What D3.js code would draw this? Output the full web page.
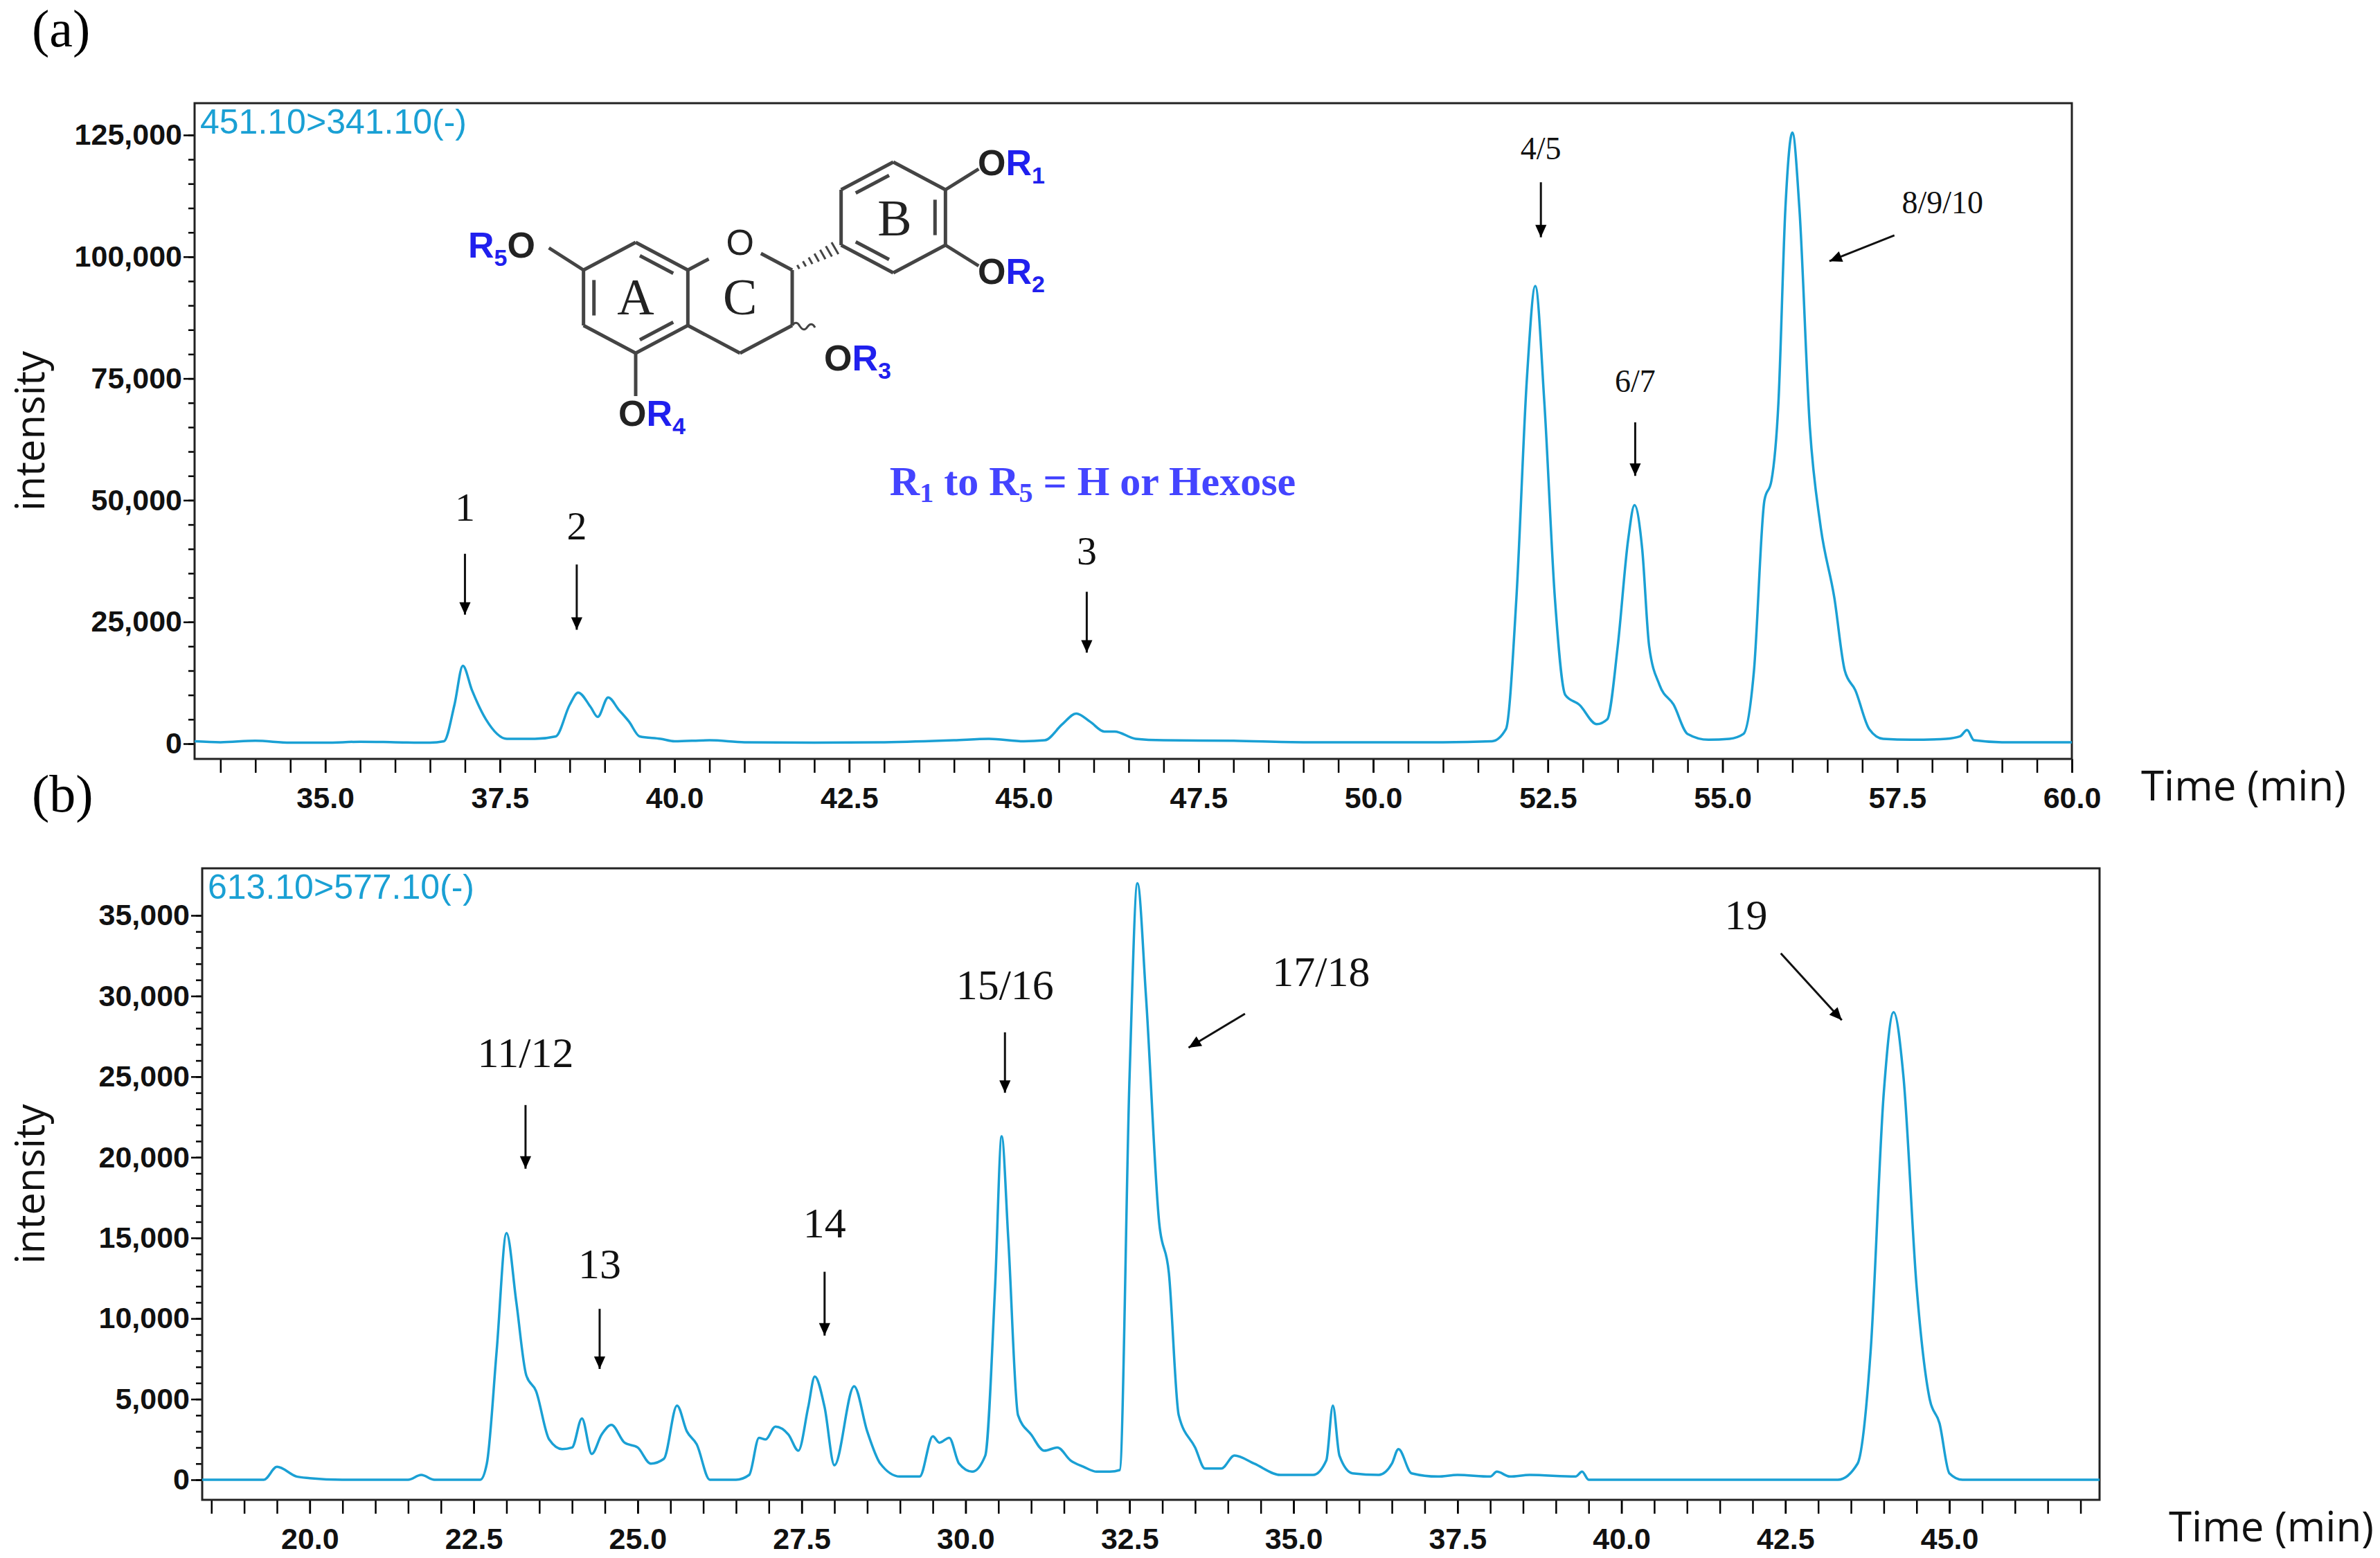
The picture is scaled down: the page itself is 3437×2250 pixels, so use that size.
<!DOCTYPE html>
<html><head><meta charset="utf-8">
<script src="https://cdn.jsdelivr.net/npm/d3@7"></script>
<style>body{margin:0;background:#fff}</style></head>
<body><svg id="c" width="3437" height="2250"></svg>
<script>
// ---- data ----
const timeA = [33.13,33.5,34,34.5,35,35.5,36,36.5,36.7,36.85,36.97,37.1,37.3,37.6,38,38.3,38.5,38.62,38.8,38.9,39.05,39.2,39.35,39.5,39.8,40,40.5,41,42,43,44,44.5,45,45.3,45.55,45.75,45.95,46.15,46.3,46.6,47,48,49,50,51,51.7,51.9,52.05,52.2,52.32,52.45,52.6,52.75,52.95,53.2,53.35,53.5,53.65,53.74,53.85,53.95,54.1,54.3,54.5,54.8,55.1,55.3,55.45,55.6,55.7,55.8,55.9,56.0,56.1,56.25,56.4,56.6,56.75,56.9,57.1,57.3,57.7,58.2,58.4,58.5,58.6,59,60];
const intA = [500,300,600,200,200,400,300,200,500,8000,16000,11000,5000,1000,1000,1500,8000,10500,7500,5500,9500,7000,4500,1500,1000,500,700,300,200,300,700,1000,500,700,4000,6200,4500,2500,2500,1000,700,600,300,300,300,500,3000,30000,75000,94000,70000,30000,10000,8000,4000,5000,20000,42000,49000,40000,20000,12000,8000,2000,800,1000,2000,15000,50000,54000,70000,110000,125500,110000,65000,45000,30000,15000,11000,3000,1000,800,1000,1500,2800,700,300,300];
const timeB = [18.36,19.3,19.5,19.8,20,20.5,21.5,21.7,21.9,22.6,22.7,22.85,23.0,23.15,23.3,23.45,23.65,23.85,24.0,24.15,24.3,24.45,24.6,24.8,25.0,25.2,25.4,25.6,25.75,25.9,26.1,26.5,26.7,26.85,26.95,27.1,27.3,27.45,27.6,27.7,27.85,28.0,28.3,28.5,28.7,29.0,29.3,29.5,29.6,29.75,29.9,30.1,30.3,30.45,30.55,30.65,30.8,31.0,31.2,31.4,31.6,31.8,32.0,32.2,32.35,32.5,32.62,32.75,32.95,33.1,33.25,33.5,33.65,33.9,34.1,34.4,34.8,35.3,35.5,35.6,35.7,35.9,36.3,36.5,36.6,36.8,37.2,37.5,38,38.1,38.3,38.6,39.3,39.4,39.5,43.3,43.6,43.8,44.0,44.15,44.3,44.5,44.7,44.85,45.0,45.2,47.29];
const intB = [0,0,800,200,100,0,0,300,0,0,1000,8000,15300,11000,6500,5500,2500,1900,2000,3800,1600,2800,3400,2300,2000,1000,1300,4600,3000,2200,0,0,300,2600,2500,3300,2800,1800,4500,6400,4500,900,5800,3000,1000,200,200,2700,2300,2600,1000,500,1500,12000,21300,15000,4000,2800,1800,2000,1200,800,500,500,600,25000,37000,30000,16000,12800,4000,2000,700,700,1500,1000,300,300,1200,4600,1500,400,300,1000,1900,400,200,300,200,500,200,300,200,500,0,0,1000,8000,24000,29000,25000,12000,5000,3500,400,0,0];
const xTicksA = [35,37.5,40,42.5,45,47.5,50,52.5,55,57.5,60];
const yTicksA = [0,25000,50000,75000,100000,125000];
const xTicksB = [20,22.5,25,27.5,30,32.5,35,37.5,40,42.5,45];
const yTicksB = [0,5000,10000,15000,20000,25000,30000,35000];
const annA = [
 {t:"1",x:37.0,ly:45800,x1:37.0,y1:39000,x2:37.0,y2:26500,fs:58},
 {t:"2",x:38.6,ly:42000,x1:38.6,y1:36800,x2:38.6,y2:23400,fs:58},
 {t:"3",x:45.9,ly:36800,x1:45.9,y1:31200,x2:45.9,y2:18700,fs:58},
 {t:"4/5",x:52.4,ly:120000,x1:52.4,y1:115300,x2:52.4,y2:104000,fs:46},
 {t:"6/7",x:53.75,ly:72300,x1:53.75,y1:66000,x2:53.75,y2:55000,fs:46},
 {t:"8/9/10",x:58.15,ly:109000,x1:57.46,y1:104400,x2:56.53,y2:99100,fs:46}
];
const annB = [
 {t:"11/12",x:23.29,ly:25600,x1:23.29,y1:23240,x2:23.29,y2:19290,fs:62},
 {t:"13",x:24.42,ly:12500,x1:24.42,y1:10600,x2:24.42,y2:6870,fs:62},
 {t:"14",x:27.85,ly:15050,x1:27.85,y1:12900,x2:27.85,y2:8940,fs:62},
 {t:"15/16",x:30.6,ly:29800,x1:30.6,y1:27750,x2:30.6,y2:24000,fs:62},
 {t:"17/18",x:35.42,ly:30600,x1:34.26,y1:28900,x2:33.40,y2:26800,fs:62},
 {t:"19",x:41.9,ly:34150,x1:42.43,y1:32650,x2:43.36,y2:28500,fs:62}
];

const svg = d3.select("#c");
const defs = svg.append("defs");
defs.append("marker").attr("id","ah").attr("viewBox","0 0 10 10").attr("refX",10).attr("refY",5)
 .attr("markerWidth",7).attr("markerHeight",6).attr("markerUnits","strokeWidth").attr("orient","auto")
 .append("path").attr("d","M0,0.5 L10,5 L0,9.5 Z").attr("fill","#000");
const LINE="#1aa0d4";
const tickFont="'Liberation Sans Narrow','Liberation Sans',Arial,sans-serif";

function panel(o){
  const x=d3.scaleLinear().domain(o.xd).range([o.l,o.r]);
  const y=d3.scaleLinear().domain(o.yd).range([o.y0,o.y1]);
  const g=svg.append("g");
  const ymin=d3.range(0,o.yd[1]+1,o.minorY);
  g.append("g").attr("transform",`translate(${o.l},0)`)
   .call(d3.axisLeft(y).tickValues(ymin).tickSize(9).tickFormat(""))
   .call(s=>{s.select(".domain").remove();s.selectAll("line").attr("stroke","#000").attr("stroke-width",2.5);});
  g.append("g").attr("transform",`translate(${o.l},0)`)
   .call(d3.axisLeft(y).tickValues(o.yt).tickSize(16).tickPadding(2).tickFormat(d3.format(",")))
   .call(s=>{s.select(".domain").remove();s.selectAll("line").attr("stroke","#000").attr("stroke-width",2.5);
     s.selectAll("text").attr("font-family",tickFont).attr("font-weight","bold").attr("font-size",43).attr("fill","#111");});
  const xmin=d3.range(Math.ceil(o.xd[0]*2)/2,o.xd[1]+0.01,0.5);
  g.append("g").attr("transform",`translate(0,${o.b})`)
   .call(d3.axisBottom(x).tickValues(xmin).tickSize(20).tickFormat(""))
   .call(s=>{s.select(".domain").remove();s.selectAll("line").attr("stroke","#000").attr("stroke-width",2.5);});
  g.append("g").attr("transform",`translate(0,${o.b})`)
   .call(d3.axisBottom(x).tickValues(o.xt).tickSize(20).tickPadding(20).tickFormat(d3.format(".1f")))
   .call(s=>{s.select(".domain").remove();s.selectAll("line").attr("stroke","#000").attr("stroke-width",2.5);
     s.selectAll("text").attr("font-family",tickFont).attr("font-weight","bold").attr("font-size",43).attr("fill","#111");});
  g.append("rect").attr("x",o.l).attr("y",o.t).attr("width",o.r-o.l).attr("height",o.b-o.t)
   .attr("fill","none").attr("stroke","#222").attr("stroke-width",3);
  const pts=o.tx.map((t,i)=>[t,o.iv[i]]);
  g.append("path").datum(pts).attr("fill","none").attr("stroke",LINE).attr("stroke-width",3.5)
   .attr("d",d3.line().x(d=>x(d[0])).y(d=>y(d[1])).curve(d3.curveMonotoneX));
  g.append("text").attr("x",o.l+8).attr("y",o.t+44).text(o.trace).attr("fill",LINE)
   .attr("font-family",tickFont).attr("font-size",50);
  g.append("text").attr("x",o.r+100).attr("y",o.b+60).text("Time (min)")
   .attr("font-family","'Open Sans',sans-serif").attr("font-size",60).attr("fill","#111");
  g.append("text").attr("transform",`translate(64,${(o.t+o.b)/2}) rotate(-90)`).attr("text-anchor","middle")
   .text("intensity").attr("font-family","'Open Sans',sans-serif").attr("font-size",58).attr("fill","#111");
  g.append("text").attr("x",46).attr("y",o.t-82).text(o.tag).attr("font-family","'Liberation Serif',serif").attr("font-size",76);
  o.ann.forEach(a=>{
    g.append("text").attr("x",x(a.x)).attr("y",y(a.ly)).attr("text-anchor","middle").text(a.t)
     .attr("font-family","'Liberation Serif',serif").attr("font-size",a.fs).attr("fill","#111");
    g.append("line").attr("x1",x(a.x1)).attr("y1",y(a.y1)).attr("x2",x(a.x2)).attr("y2",y(a.y2))
     .attr("stroke","#111").attr("stroke-width",3).attr("marker-end","url(#ah)");
  });
}
panel({xd:[33.13,60],yd:[0,125000],l:281,r:2992,t:149,b:1096,y0:1074,y1:195,xt:xTicksA,yt:yTicksA,minorY:5000,
  tx:timeA,iv:intA,trace:"451.10>341.10(-)",tag:"(a)",ann:annA});
panel({xd:[18.36,47.29],yd:[0,35000],l:292,r:3032,t:1254,b:2166,y0:2137,y1:1322,xt:xTicksB,yt:yTicksB,minorY:1000,
  tx:timeB,iv:intB,trace:"613.10>577.10(-)",tag:"(b)",ann:annB});

// ---- chemical structure (decorative) ----
const st=svg.append("g").attr("stroke","#444").attr("stroke-width",5).attr("fill","none");
const RX=87, RY=80, s3=Math.sqrt(3)/2;
function hex(cx,cy){return d3.range(6).map(i=>{const a=-Math.PI/2+i*Math.PI/3;return [cx+RX*Math.cos(a),cy+RY*Math.sin(a)];});}
const A=[918,430], C=[918+2*RX*s3,430], B=[1290,314];
const hA=hex(...A), hC=hex(...C), hB=hex(...B);
const ln=(p,q)=>st.append("line").attr("x1",p[0]).attr("y1",p[1]).attr("x2",q[0]).attr("y2",q[1]);
for(let i=0;i<6;i++) ln(hA[i],hA[(i+1)%6]);
for(let i=0;i<6;i++) ln(hB[i],hB[(i+1)%6]);
[[1,2],[2,3],[3,4]].forEach(([i,j])=>ln(hC[i],hC[j]));
const Opos=hC[0];
ln(hC[5],[Opos[0]-(Opos[0]-hC[5][0])*0.6,Opos[1]-(Opos[1]-hC[5][1])*0.6]);
ln([Opos[0]+(hC[1][0]-Opos[0])*0.4,Opos[1]+(hC[1][1]-Opos[1])*0.4],hC[1]);
function inner(c,h,i){const k=0.8;const p=h[i],q=h[(i+1)%6];
  const m=(v)=>[c[0]+(v[0]-c[0])*k,c[1]+(v[1]-c[1])*k];const a=m(p),b=m(q);
  ln([a[0]+(b[0]-a[0])*0.1,a[1]+(b[1]-a[1])*0.1],[b[0]-(b[0]-a[0])*0.1,b[1]-(b[1]-a[1])*0.1]);}
[0,2,4].forEach(i=>inner(A,hA,i));
[5,1,3].forEach(i=>inner(B,hB,i));
const p1=hC[1], p2=hB[4];
d3.range(1,8).forEach(i=>{const t=i/8;const px=p1[0]+(p2[0]-p1[0])*t,py=p1[1]+(p2[1]-p1[1])*t;const w=2+t*9;
  ln([px+w*0.5,py+w*0.87],[px-w*0.5,py-w*0.87]).attr("stroke-width",3);});
ln(hA[5],[hA[5][0]-50,hA[5][1]-32]);
ln(hA[3],[hA[3][0],hA[3][1]+62]);
ln(hB[1],[hB[1][0]+48,hB[1][1]-30]);
ln(hB[2],[hB[2][0]+48,hB[2][1]+30]);
st.append("path").attr("d",`M${hC[2][0]},${hC[2][1]} q6,-8 11,1 q6,9 11,1 q6,-8 11,1`).attr("stroke-width",3);
const tx=(x,y,t,fs,col,fam)=>svg.append("text").attr("x",x).attr("y",y).attr("font-size",fs)
  .attr("fill",col).attr("font-family",fam).attr("text-anchor","middle").text(t);
const sans="'Liberation Sans',Arial,sans-serif", serif="'Liberation Serif',serif";
function sub(x,y,n,pre,post){const t=svg.append("text").attr("x",x).attr("y",y).attr("font-size",52)
  .attr("font-family",sans).attr("font-weight","bold");
  if(pre) t.append("tspan").attr("fill","#222").text(pre);
  t.append("tspan").attr("fill","#2020ee").text("R");
  t.append("tspan").attr("fill","#2020ee").attr("font-size",34).attr("dy",12).text(n);
  if(post) t.append("tspan").attr("fill","#222").attr("font-size",52).attr("dy",-12).text(post);}
sub(676,372,"5",null,"O");
sub(893,615,"4","O",null);
sub(1190,535,"3","O",null);
sub(1412,253,"1","O",null);
sub(1412,410,"2","O",null);
tx(Opos[0],Opos[1]+18,"O",52,"#222",sans);
tx(A[0],A[1]+24,"A",74,"#222",serif);
tx(C[0],C[1]+24,"C",74,"#222",serif);
tx(B[0]+2,B[1]+26,"B",74,"#222",serif);
const rt=svg.append("text").attr("x",1578).attr("y",715).attr("text-anchor","middle").attr("font-family",serif)
  .attr("font-weight","bold").attr("font-size",60).attr("fill","#4444ff");
rt.append("tspan").text("R");rt.append("tspan").attr("font-size",40).attr("dy",10).text("1");
rt.append("tspan").attr("dy",-10).text(" to R");rt.append("tspan").attr("font-size",40).attr("dy",10).text("5");
rt.append("tspan").attr("dy",-10).text(" = H or Hexose");
</script></body></html>
